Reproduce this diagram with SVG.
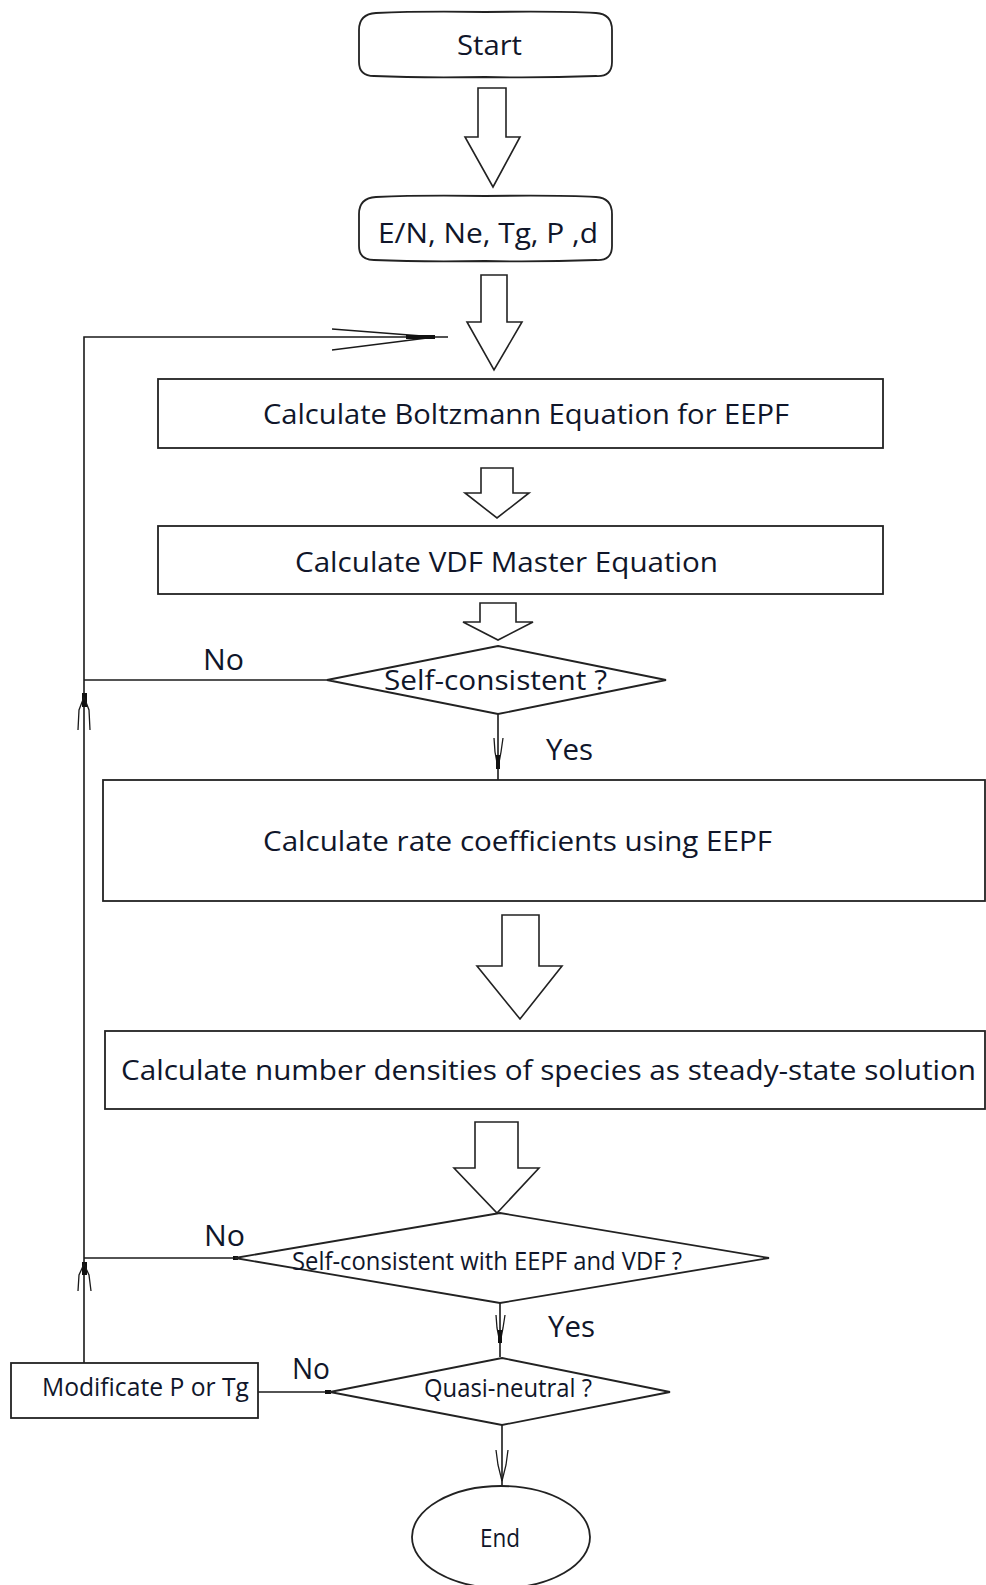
<svg xmlns="http://www.w3.org/2000/svg" width="986" height="1585" viewBox="0 0 986 1585">
<style>
.box{fill:#fff;stroke:#222;stroke-width:1.8}
.blk{fill:#fff;stroke:#222;stroke-width:1.6;stroke-linejoin:miter}
.ln{fill:none;stroke:#1a1a1a;stroke-width:1.6}
.barb{fill:none;stroke:#1a1a1a;stroke-width:1.3}
.t{font-family:"Open Sans","Noto Sans","DejaVu Sans",sans-serif;font-size:28px;fill:#10162a;text-anchor:start}
.l{font-family:"Open Sans","Noto Sans","DejaVu Sans",sans-serif;font-size:29px;fill:#10162a;text-anchor:start}
.n{font-family:"Open Sans","Noto Sans","DejaVu Sans",sans-serif;font-size:25px;fill:#10162a;text-anchor:start}
.dot{fill:#111}
</style>
<rect width="986" height="1585" fill="#fff"/>

<g id="connectors">
  <!-- block arrows -->
  <polygon class="blk" points="478,88 506,88 506,137 520,137 493,187 465,137 478,137"/>
  <polygon class="blk" points="481,275 507,275 507,322 522,322 494,370 467,322 481,322"/>
  <polygon class="blk" points="481,468 513,468 513,493 529,493 497,518 465,493 481,493"/>
  <polygon class="blk" points="480,603 516,603 516,622 533,622 498,640 463,622 480,622"/>
  <polygon class="blk" points="502,915 539,915 539,966 562,966 520,1019 477,966 502,966"/>
  <polygon class="blk" points="475,1122 518,1122 518,1168 539,1168 497,1213 454,1168 475,1168"/>

  <!-- feedback loop -->
  <polyline class="ln" points="84,1363 84,337 448,337"/>
  <line class="barb" x1="332" y1="329" x2="435" y2="337"/>
  <line class="barb" x1="332" y1="350" x2="435" y2="337"/>
  <rect class="dot" x="406" y="335" width="29" height="4"/>

  <!-- No from D1 -->
  <line class="ln" x1="327" y1="680" x2="84" y2="680"/>
  <rect class="dot" x="82" y="693" width="5" height="14"/>
  <polyline class="barb" points="78,730 79,710 84,697 89,710 90,730"/>

  <!-- No from D2 -->
  <line class="ln" x1="235" y1="1258" x2="84" y2="1258"/>
  <rect class="dot" x="233" y="1256" width="5" height="4"/>
  <rect class="dot" x="82" y="1262" width="5" height="13"/>
  <polyline class="barb" points="78,1291 79,1275 84,1264 89,1275 91,1291"/>

  <!-- No from D3 -->
  <line class="ln" x1="330" y1="1392" x2="258" y2="1392"/>
  <rect class="dot" x="325" y="1390" width="6" height="4"/>

  <!-- Yes D1 -->
  <line class="ln" x1="498" y1="714" x2="498" y2="780"/>
  <polyline class="barb" points="494,738 495,752 498,768 501,752 503,738"/>
  <rect class="dot" x="496" y="755" width="4" height="14"/>

  <!-- Yes D2 -->
  <line class="ln" x1="500" y1="1295" x2="500" y2="1357"/>
  <polyline class="barb" points="496,1315 497,1328 500,1343 503,1328 505,1315"/>
  <rect class="dot" x="498" y="1330" width="4" height="13"/>

  <!-- D3 to End -->
  <line class="ln" x1="502" y1="1425" x2="502" y2="1486"/>
  <polyline class="barb" points="496,1450 498,1465 502,1481 506,1465 508,1450"/>
</g>

<g id="start">
  <path class="box" d="M376,13 Q420,11 485,12 Q560,11 596,13 Q612,14 612,30 L612,62 Q612,77 596,76 Q540,78 485,77 Q420,78 374,76 Q359,76 359,62 L359,30 Q359,14 376,13 Z"/>
  <text class="t" x="457" y="55" textLength="65" lengthAdjust="spacingAndGlyphs">Start</text>
</g>

<g id="inputs">
  <path class="box" d="M376,197 Q420,195 485,196 Q560,195 596,197 Q612,198 612,214 L612,246 Q612,261 596,260 Q540,262 485,261 Q420,262 374,260 Q359,260 359,246 L359,214 Q359,198 376,197 Z"/>
  <text class="t" x="378" y="243" textLength="220" lengthAdjust="spacingAndGlyphs">E/N, Ne, Tg, P ,d</text>
</g>

<g id="boltzmann">
  <rect class="box" x="158" y="379" width="725" height="69"/>
  <text class="t" x="263" y="424" textLength="526" lengthAdjust="spacingAndGlyphs">Calculate Boltzmann Equation for EEPF</text>
</g>

<g id="vdf">
  <rect class="box" x="158" y="526" width="725" height="68"/>
  <text class="t" x="295" y="572" textLength="423" lengthAdjust="spacingAndGlyphs">Calculate VDF Master Equation</text>
</g>

<g id="decision1">
  <polygon class="box" points="498,646 666,680 498,714 327,680"/>
  <text class="t" x="384" y="690" textLength="223" lengthAdjust="spacingAndGlyphs">Self-consistent ?</text>
  <text class="l" x="203" y="670" textLength="41" lengthAdjust="spacingAndGlyphs">No</text>
  <text class="l" x="546" y="760" textLength="47" lengthAdjust="spacingAndGlyphs">Yes</text>
</g>

<g id="rates">
  <rect class="box" x="103" y="780" width="882" height="121"/>
  <text class="t" x="263" y="851" textLength="509" lengthAdjust="spacingAndGlyphs">Calculate rate coefficients using EEPF</text>
</g>

<g id="densities">
  <rect class="box" x="105" y="1031" width="880" height="78"/>
  <text class="t" x="121" y="1080" textLength="855" lengthAdjust="spacingAndGlyphs">Calculate number densities of species as steady-state solution</text>
</g>

<g id="decision2">
  <polygon class="box" points="500,1213 769,1258 500,1303 235,1258"/>
  <text class="n" x="292" y="1270" textLength="390" lengthAdjust="spacingAndGlyphs">Self-consistent with EEPF and VDF ?</text>
  <text class="l" x="204" y="1246" textLength="41" lengthAdjust="spacingAndGlyphs">No</text>
  <text class="l" x="548" y="1337" textLength="47" lengthAdjust="spacingAndGlyphs">Yes</text>
</g>

<g id="decision3">
  <polygon class="box" points="502,1358 670,1392 502,1425 330,1392"/>
  <text class="n" x="424" y="1397" textLength="168" lengthAdjust="spacingAndGlyphs">Quasi-neutral ?</text>
  <text class="l" x="292" y="1379" textLength="38" lengthAdjust="spacingAndGlyphs">No</text>
</g>

<g id="modify">
  <rect class="box" x="11" y="1363" width="247" height="55"/>
  <text class="n" x="42" y="1396" textLength="207" lengthAdjust="spacingAndGlyphs">Modificate P or Tg</text>
</g>

<g id="end">
  <ellipse class="box" cx="501" cy="1537" rx="89" ry="51"/>
  <text class="n" x="480" y="1547" textLength="40" lengthAdjust="spacingAndGlyphs">End</text>
</g>
</svg>
